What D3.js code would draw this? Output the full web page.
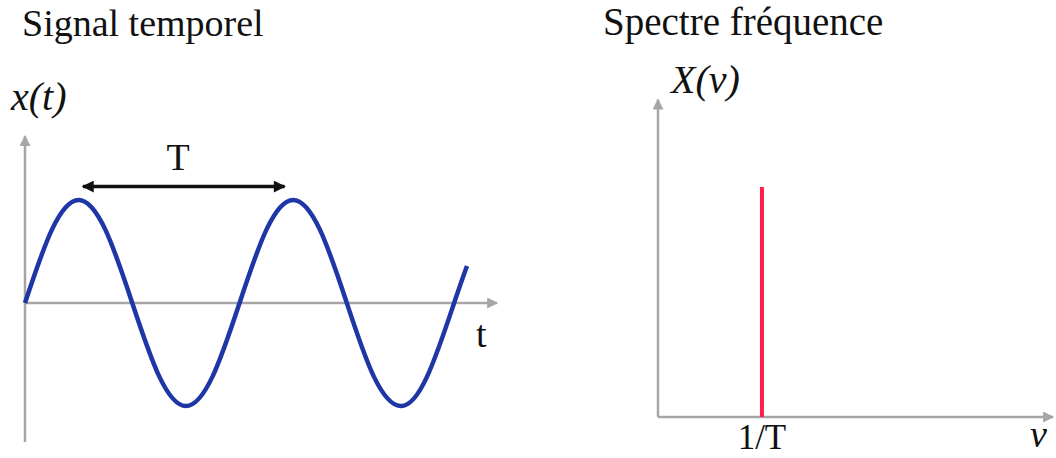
<html>
  <head>
    <meta charset="utf-8">
    <script src="https://d3js.org/d3.v7.min.js"></script>
    <style>
      body { margin: 0; background: #fff; }
      text { font-family: "Liberation Serif", "Times New Roman", serif; fill: #111; }
    </style>
  </head>
  <body>
    <svg width="1056" height="458"></svg>
    <script>
      // time signal (t in periods, x normalised amplitude)
      var tValues = [0, 0.125, 0.25, 0.375, 0.5, 0.625, 0.75, 0.875, 1.0, 1.125, 1.25, 1.375, 1.5, 1.625, 1.75, 1.875, 2.0, 2.06];
      var xValues = [0, 0.71, 1, 0.71, 0, -0.71, -1, -0.71, 0, 0.71, 1, 0.71, 0, -0.71, -1, -0.71, 0, 0.36];
      var periodSpan = [0.27, 1.21];   // double arrow marking T
      // spectrum
      var freqs = [1];                 // 1/T
      var amps = [1];
      var freqLabels = ["1/T"];

      var svg = d3.select("svg");

      var defs = svg.append("defs");
      function marker(id, color, w, h) {
        defs.append("marker")
          .attr("id", id)
          .attr("viewBox", "0 0 10 10")
          .attr("refX", 9).attr("refY", 5)
          .attr("markerUnits", "userSpaceOnUse")
          .attr("markerWidth", w).attr("markerHeight", h)
          .attr("orient", "auto-start-reverse")
          .append("path")
          .attr("d", "M0,0 L10,5 L0,10 z")
          .attr("fill", color);
      }
      marker("greyArrow", "#a6a6a6", 12, 11);
      marker("blackArrow", "#111", 13, 12);

      // ---------- left: signal temporel
      var x = d3.scaleLinear().domain([0, 2.2]).range([25, 497]);
      var y = d3.scaleLinear().domain([-1, 1]).range([406, 200]);

      svg.append("text").attr("x", 22).attr("y", 36).attr("font-size", "38px").text("Signal temporel");
      svg.append("text").attr("x", 11).attr("y", 110).attr("font-size", "40px")
        .attr("font-style", "italic").text("x(t)");

      // axes
      svg.append("line")
        .attr("x1", x(0)).attr("y1", y(-1.35))
        .attr("x2", x(0)).attr("y2", y(1.62))
        .attr("stroke", "#a6a6a6").attr("stroke-width", 2.5)
        .attr("marker-end", "url(#greyArrow)");
      svg.append("line")
        .attr("x1", x(0)).attr("y1", y(0))
        .attr("x2", x(2.2)).attr("y2", y(0))
        .attr("stroke", "#a6a6a6").attr("stroke-width", 2.5)
        .attr("marker-end", "url(#greyArrow)");
      svg.append("text").attr("x", 476).attr("y", 347).attr("font-size", "38px").text("t");

      var line = d3.line()
        .x(function(d, i) { return x(tValues[i]); })
        .y(function(d) { return y(d); })
        .curve(d3.curveNatural);

      svg.append("path")
        .datum(xValues)
        .attr("d", line)
        .attr("fill", "none")
        .attr("stroke", "#1f36a6")
        .attr("stroke-width", 4.5);

      // period arrow
      svg.append("line")
        .attr("x1", x(periodSpan[0])).attr("y1", y(1.13))
        .attr("x2", x(periodSpan[1])).attr("y2", y(1.13))
        .attr("stroke", "#111").attr("stroke-width", 3.5)
        .attr("marker-start", "url(#blackArrow)")
        .attr("marker-end", "url(#blackArrow)");
      svg.append("text")
        .attr("x", 178).attr("y", 170)
        .attr("text-anchor", "middle").attr("font-size", "38px").text("T");

      // ---------- right: spectre fréquence
      var fx = d3.scaleLinear().domain([0, 3.8]).range([658, 1053]);
      var fy = d3.scaleLinear().domain([0, 1]).range([417, 187]);

      svg.append("text").attr("x", 603).attr("y", 35).attr("font-size", "39px").text("Spectre fréquence");
      svg.append("text").attr("x", 671).attr("y", 93).attr("font-size", "40px")
        .attr("font-style", "italic").text("X(ν)");

      svg.append("line")
        .attr("x1", fx(0)).attr("y1", fy(0))
        .attr("x2", fx(0)).attr("y2", fy(1.38))
        .attr("stroke", "#a6a6a6").attr("stroke-width", 2.5)
        .attr("marker-end", "url(#greyArrow)");
      svg.append("line")
        .attr("x1", fx(0)).attr("y1", fy(0))
        .attr("x2", fx(3.8)).attr("y2", fy(0))
        .attr("stroke", "#a6a6a6").attr("stroke-width", 2.5)
        .attr("marker-end", "url(#greyArrow)");

      svg.selectAll(".spike")
        .data(freqs)
        .enter().append("line")
        .attr("class", "spike")
        .attr("x1", function(d) { return fx(d); })
        .attr("x2", function(d) { return fx(d); })
        .attr("y1", fy(0))
        .attr("y2", function(d, i) { return fy(amps[i]); })
        .attr("stroke", "#fb1f4a")
        .attr("stroke-width", 4);

      svg.selectAll(".flabel")
        .data(freqs)
        .enter().append("text")
        .attr("class", "flabel")
        .attr("x", function(d) { return fx(d); })
        .attr("y", 449)
        .attr("text-anchor", "middle")
        .attr("font-size", "35px")
        .text(function(d, i) { return freqLabels[i]; });

      svg.append("text").attr("x", 1030).attr("y", 447).attr("font-size", "38px")
        .attr("font-style", "italic").text("ν");
    </script>
  </body>
</html>
